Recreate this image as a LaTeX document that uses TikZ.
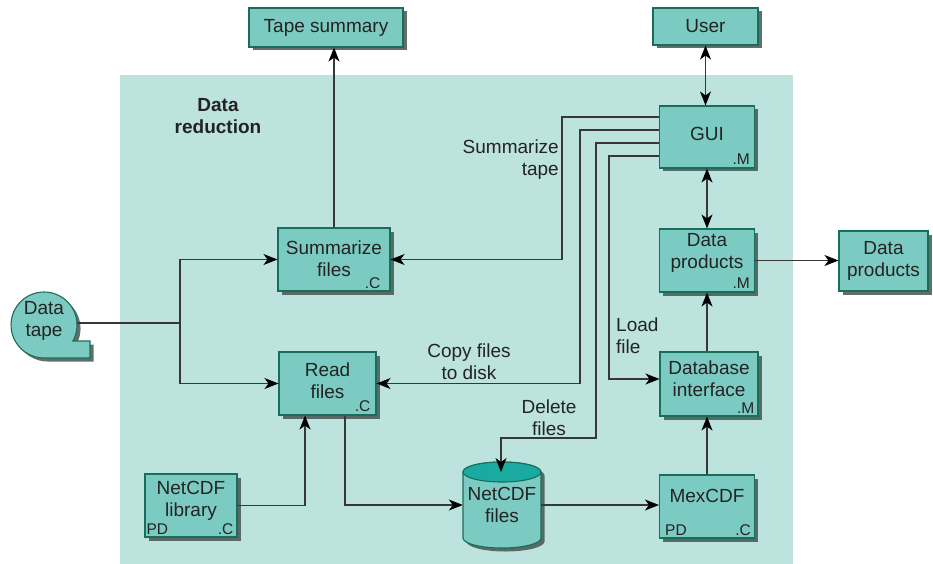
\documentclass[tikz,border=0pt]{standalone}
\usepackage{fontspec}
\setmainfont{Liberation Sans}
\usetikzlibrary{arrows.meta,shadows,calc}
\definecolor{bgc}{RGB}{189,227,223}
\definecolor{boxc}{RGB}{124,203,195}
\definecolor{bord}{RGB}{24,110,90}
\definecolor{cyltop}{RGB}{26,170,160}
\definecolor{shd}{RGB}{70,85,80}
\definecolor{linec}{RGB}{55,55,55}
\definecolor{txtc}{RGB}{35,35,35}
\begin{document}
\begin{tikzpicture}[x=1pt,y=-1pt,
  myshadow/.style={drop shadow={shadow xshift=3.5pt,shadow yshift=-3.5pt,fill=shd,opacity=0.85}},
  box/.style={draw=bord,line width=1.1pt,fill=boxc,inner sep=0pt,myshadow},
  txt/.style={font=\fontsize{19}{22}\selectfont,text=txtc,align=center,inner sep=0pt},
  sub/.style={font=\fontsize{15.5}{17}\selectfont,text=txtc,inner sep=0pt},
  conn/.style={draw=linec,line width=1.1pt},
  arr/.style={conn,-{Stealth[length=14pt,width=11pt,inset=4pt,color=black]}},
  darr/.style={conn,{Stealth[length=14pt,width=11pt,inset=4pt,color=black]}-{Stealth[length=14pt,width=11pt,inset=4pt,color=black]}},
]
\useasboundingbox (0,0) rectangle (933,564);
\fill[bgc] (120,75) rectangle (793,564);

% boxes
\node[box,minimum width=154,minimum height=39,label={[txt]center:Tape summary}] (tapesum) at (326,27.5) {};
\node[box,minimum width=105,minimum height=37,label={[txt]center:User}] (user) at (705.5,26.5) {};
\node[box,minimum width=95,minimum height=62,label={[txt,yshift=3.5pt]center:GUI}] (gui) at (707,137) {};
\node[box,minimum width=112,minimum height=63,label={[txt,yshift=0.5pt]center:Summarize\\files}] (sumfiles) at (334,259.5) {};
\node[box,minimum width=95,minimum height=63,label={[txt,yshift=8pt]center:Data\\products}] (dprodin) at (707,260.5) {};
\node[box,minimum width=89,minimum height=60,label={[txt]center:Data\\products}] (dprodout) at (883.5,261) {};
\node[box,minimum width=97,minimum height=63,label={[txt,yshift=3pt]center:Read\\files}] (readfiles) at (327.5,383.5) {};
\node[box,minimum width=98,minimum height=64,label={[txt,yshift=5pt]center:Database\\interface}] (dbint) at (709,384) {};
\node[box,minimum width=92,minimum height=63,label={[txt,yshift=5pt]center:NetCDF\\library}] (netlib) at (191,505.5) {};
\node[box,minimum width=95,minimum height=63,label={[txt,yshift=11pt]center:MexCDF}] (mexcdf) at (707,506.5) {};

% sub labels
\node[sub,anchor=south east] (guiM) at ($(gui.south east)+(-5,-4)$) {.M};
\node[sub,anchor=south east] (dprodM) at ($(dprodin.south east)+(-5,-4)$) {.M};
\node[sub,anchor=south east] (sumC) at ($(sumfiles.south east)+(-10,-3)$) {.C};
\node[sub,anchor=south east] (readC) at ($(readfiles.south east)+(-6,-4)$) {.C};
\node[sub,anchor=south east] (dbM) at ($(dbint.south east)+(-4,-2.5)$) {.M};
\node[sub,anchor=south east] (libC) at ($(netlib.south east)+(-4,-3)$) {.C};
\node[sub,anchor=south west] (libPD) at ($(netlib.south west)+(2,-3)$) {PD};
\node[sub,anchor=south east] (mexC) at ($(mexcdf.south east)+(-4,-3)$) {.C};
\node[sub,anchor=south west] (mexPD) at ($(mexcdf.south west)+(6,-3)$) {PD};

% data tape shape
\path[draw=bord,line width=1.1pt,fill=boxc,myshadow]
  (44,358) -- (90,358) -- (90,341) -- (72.9,341)
  arc[start angle=29,end angle=-270,radius=33] -- cycle;
\node[txt] (datatape) at (44,321) {Data\\tape};
\coordinate (tapeout) at (77,323);

% cylinder
\path[draw=bord,line width=1.1pt,fill=boxc,myshadow]
  (463,472) -- (463,538) arc[start angle=180,end angle=0,x radius=39,y radius=10]
  -- (541,472) arc[start angle=0,end angle=-180,x radius=39,y radius=10] -- cycle;
\path[draw=bord,line width=1.1pt,fill=cyltop] (502,472) ellipse[x radius=39,y radius=10];
\node[txt,minimum width=78,minimum height=86] (netfiles) at (502,505) {NetCDF\\files};
\coordinate (netin) at (501,472);

% free labels
\node[txt,font=\fontsize{19}{22}\selectfont\bfseries] (lbldr) at (218,116) {Data\\reduction};
\node[txt,align=right,anchor=east] (lblsum) at (559,160) {Summarize\\tape};
\node[txt] (lblcopy) at (469,362) {Copy files\\to disk};
\node[txt] (lbldel) at (549,418) {Delete\\files};
\node[txt,align=left,anchor=west] (lblload) at (616,336) {Load\\file};

% connectors
\draw[arr] (sumfiles.north) -- (sumfiles.north |- tapesum.south);
\draw[conn] (tapeout) -- (180,323) coordinate (j1);
\draw[arr] (j1) |- (sumfiles.west);
\draw[arr] (j1) |- (readfiles.west);
\draw[darr] (user.south) -- (user.south |- gui.north);
\draw[darr] (gui.south) -- (dprodin.north);
\draw[arr] (dprodin.east) -- (dprodin.east -| dprodout.west);
\draw[arr] (dbint.north -| dprodin.south) -- (dprodin.south);
\draw[arr] (mexcdf.north) -- (mexcdf.north |- dbint.south);
\draw[arr] (netfiles.east) -- (netfiles.east -| mexcdf.west);
\draw[arr] ($(readfiles.south)+(17.5,0)$) |- (netfiles.west);
\draw[arr] (netlib.east) -| ($(readfiles.south)+(-22.5,0)$);

\draw[arr] ($(gui.west)+(0,-20)$) -- ++(-97,0) |- (sumfiles.east);
\draw[arr] ($(gui.west)+(0,-7)$) -- ++(-79,0) |- (readfiles.east);
\draw[arr] ($(gui.west)+(0,6)$) -- ++(-63,0) -- ++(0,295) -| (netin);
\draw[arr] ($(gui.west)+(0,19)$) -- ++(-50,0) |- ($(dbint.west)+(0,-5)$);
\end{tikzpicture}
\end{document}
